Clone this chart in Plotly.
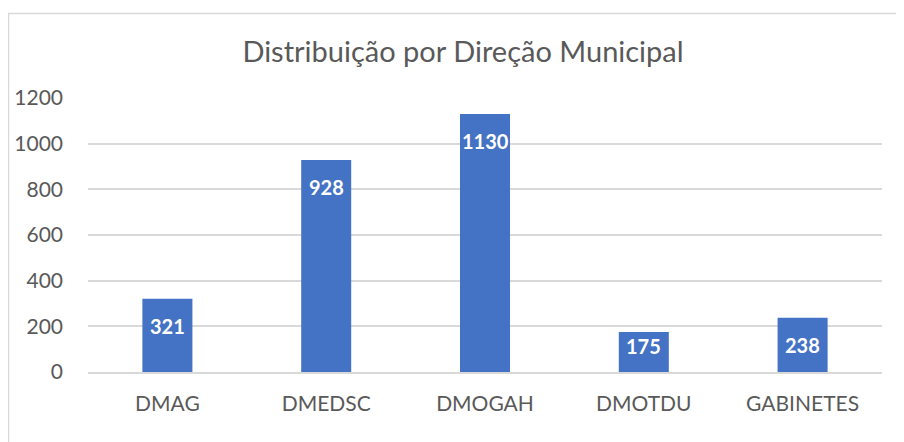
import plotly.graph_objects as go

categories = ["DMAG", "DMEDSC", "DMOGAH", "DMOTDU", "GABINETES"]
values = [321, 928, 1130, 175, 238]
y_ticks = [0, 200, 400, 600, 800, 1000, 1200]

# page body has an 8px margin; figure coordinates = reference coordinates - 8
OFF = 8
W, H = 896, 434
L, R, T, B = 88 - OFF, 22, 98 - OFF, 70
pw, ph = W - L - R, H - T - B
YMAX = 1200

def px_x(x):
    return (x - OFF - L) / pw

def px_y(y):
    return (H - B - (y - OFF)) / ph

FONT = "Lato, Open Sans, sans-serif"

fig = go.Figure(go.Bar(
    x=categories, y=values,
    marker=dict(color="#4472C4", line=dict(width=0)),
    hoverinfo="x+y",
))

annotations = []
for c, v in zip(categories, values):
    bar_h = v / YMAX * ph
    shift = -27 if bar_h >= 54 else -(bar_h / 2 - 6)
    annotations.append(dict(
        x=c, y=v, xref="x", yref="y", text=str(v), showarrow=False,
        yanchor="middle", yshift=shift,
        font=dict(color="white", size=20, family=FONT, weight="bold"),
    ))

fig.update_layout(
    width=W, height=H,
    margin=dict(l=L, r=R, t=T, b=B, autoexpand=False),
    paper_bgcolor="white", plot_bgcolor="white",
    bargap=0.685,
    showlegend=False,
    title=dict(text="Distribuição por Direção Municipal", x=455 / W, xanchor="center",
               y=1 - 44 / H, yanchor="middle", automargin=False,
               font=dict(size=29, color="#595959", family=FONT)),
    font=dict(family=FONT, color="#595959", size=21),
    xaxis=dict(showgrid=False, showline=True, linecolor="#D9D9D9", linewidth=1.5,
               automargin=False,
               ticks="", tickfont=dict(size=21, color="#595959"), ticklabelstandoff=12),
    yaxis=dict(range=[0, YMAX], tickvals=y_ticks, showgrid=True, gridcolor="#D9D9D9",
               automargin=False,
               gridwidth=1.5, zeroline=False, showline=False, ticks="",
               tickfont=dict(size=21, color="#595959"), ticklabelstandoff=24),
    annotations=annotations,
    shapes=[dict(type="rect", xref="paper", yref="paper",
                 x0=px_x(8.5), x1=px_x(960), y0=px_y(500), y1=px_y(13.5),
                 line=dict(color="#D9D9D9", width=1.5), fillcolor="rgba(0,0,0,0)", layer="below")],
)

fig.write_html("out.html")
